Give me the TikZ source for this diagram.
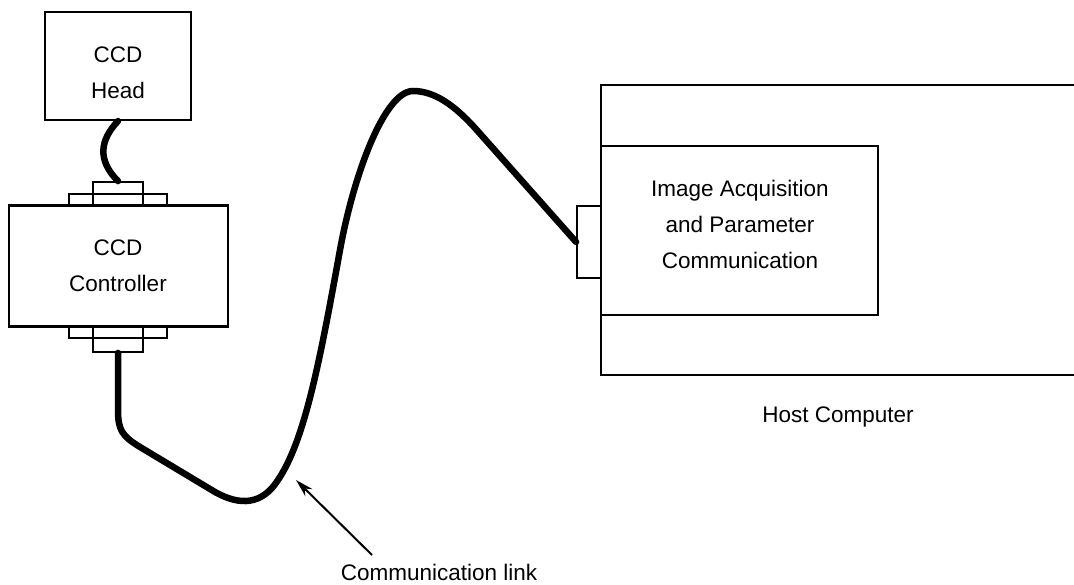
\documentclass[tikz,border=0pt]{standalone}
\usepackage{fontspec}
\setmainfont{Liberation Sans}
\usetikzlibrary{arrows.meta}
\begin{document}
\begin{tikzpicture}[x=1pt,y=-1pt,
  box/.style={draw,line width=2.1pt,inner sep=0pt},
  txt/.style={align=center,inner sep=0pt,font=\fontsize{22.5}{36}\selectfont},
  conn/.style={draw,line width=1.8pt,inner sep=0pt},
  cable/.style={line width=6.5pt,line cap=round,line join=round},
  lbl/.style={font=\fontsize{22.5}{36}\selectfont,inner sep=0pt,text height=16pt,text depth=4pt},
  pointer/.style={line width=2pt,-{Stealth[length=18pt,width=10pt]}}]
\useasboundingbox (0,0) rectangle (1074,585);
% CCD head
\node[box,minimum width=146pt,minimum height=108pt] (head) at (118,66) {};
\node[txt] (headtxt) at (118,73) {CCD\\Head};
% CCD controller
\node[box,minimum width=219pt,minimum height=121pt] (ctrl) at (118.5,266) {};
\node[txt] (ctrltxt) at (118,266) {CCD\\Controller};
% top connector
\node[conn,minimum width=98pt,minimum height=11pt] (tconnw) at (118,199.5) {};
\node[conn,minimum width=50pt,minimum height=23pt] (tconn) at (118,193.5) {};
% bottom connector
\node[conn,minimum width=98pt,minimum height=11pt] (bconnw) at (118,332.5) {};
\node[conn,minimum width=50pt,minimum height=25pt] (bconn) at (118,339.5) {};
% host computer outer box (open to the right)
\coordinate (hosttr) at (1074,85);
\coordinate (hosttl) at (601,85);
\coordinate (hostbl) at (601,375);
\coordinate (hostbr) at (1074,375);
\draw[line width=2.1pt] (hosttr) -- (hosttl) -- (hostbl) -- (hostbr);
% inner box
\node[box,minimum width=277pt,minimum height=169pt] (iacq) at (739.5,230.5) {};
\node[txt] (iacqtxt) at (740,224.5) {Image Acquisition\\and Parameter\\Communication};
% host connector
\node[conn,minimum width=24pt,minimum height=72pt] (hconn) at (589,242) {};
% short cable
\draw[cable] (head.south) .. controls (100,140) and (97,160) .. (tconn.north);
% long cable
\draw[cable] (bconn.south) -- (118,410)
  .. controls (118,430) and (122,436) .. (140,447)
  -- (215,492)
  .. controls (240,506) and (262,505) .. (278,480)
  .. controls (305,440) and (320,360) .. (340,250)
  .. controls (354,173) and (385,91) .. (413,91)
  .. controls (435,91) and (455,106) .. (475,128)
  -- (hconn.west);
% labels
\node[lbl] (hostlbl) at (838,416) {Host Computer};
\node[lbl] (linklbl) at (439,574) {Communication link};
\coordinate (arrstart) at (372,555);
\coordinate (arrend) at (296,480);
\draw[pointer] (arrstart) -- (arrend);
\end{tikzpicture}
\end{document}
